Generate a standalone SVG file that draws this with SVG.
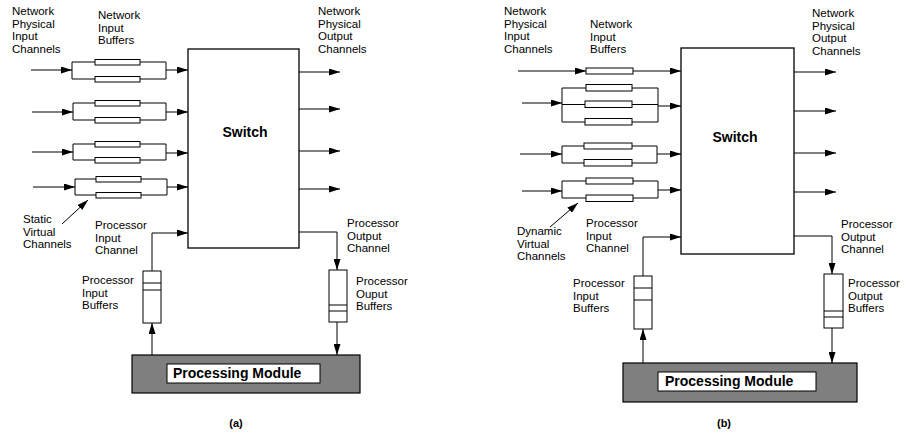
<svg xmlns="http://www.w3.org/2000/svg" width="906" height="437" viewBox="0 0 906 437">
  <style>
    text { font-family: "Liberation Sans", Arial, sans-serif; font-size: 11.5px; fill: #000; }
    .title { font-weight: bold; font-size: 14px; }
    .cap { font-weight: bold; font-size: 11px; }
    .ln { stroke: #000; stroke-width: 1; fill: none; }
    .buf { fill: #fff; stroke: #000; stroke-width: 1; }
    .sw { fill: #fff; stroke: #000; stroke-width: 1.3; }
    .pm { fill: #7f7f7f; stroke: #000; stroke-width: 1.2; }
    .pmlabel { fill: #fff; stroke: #000; stroke-width: 1; }
  </style>
  <defs>
    <marker id="arrow" viewBox="0 0 11 7" refX="11" refY="3.5" markerWidth="11" markerHeight="7" markerUnits="userSpaceOnUse" orient="auto">
      <path d="M0,0 L11,3.5 L0,7 z" fill="#000"/>
    </marker>
  </defs>
  <rect width="906" height="437" fill="#fff"/>

  <!-- ===================== (a) static virtual channels ===================== -->
  <g id="a-labels">
    <text x="12" y="15">Network<tspan x="12" dy="12.5">Physical</tspan><tspan x="12" dy="12.5">Input</tspan><tspan x="12" dy="12.5">Channels</tspan></text>
    <text x="98" y="19">Network<tspan x="98" dy="12.5">Input</tspan><tspan x="98" dy="12.5">Buffers</tspan></text>
    <text x="318" y="15">Network<tspan x="318" dy="12.5">Physical</tspan><tspan x="318" dy="12.5">Output</tspan><tspan x="318" dy="12.5">Channels</tspan></text>
    <text x="23" y="223">Static<tspan x="23" dy="12.5">Virtual</tspan><tspan x="23" dy="12.5">Channels</tspan></text>
    <text x="95" y="229">Processor<tspan x="95" dy="12.5">Input</tspan><tspan x="95" dy="12.5">Channel</tspan></text>
    <text x="82" y="284">Processor<tspan x="82" dy="12.5">Input</tspan><tspan x="82" dy="12.5">Buffers</tspan></text>
    <text x="347" y="227">Processor<tspan x="347" dy="12.5">Output</tspan><tspan x="347" dy="12.5">Channel</tspan></text>
    <text x="356" y="285">Processor<tspan x="356" dy="12.5">Ouput</tspan><tspan x="356" dy="12.5">Buffers</tspan></text>
    <text class="cap" x="236" y="427" text-anchor="middle">(a)</text>
  </g>

  <g id="a-switch">
    <rect class="sw" x="188" y="49" width="111" height="199"/>
    <text class="title" x="245" y="137" text-anchor="middle">Switch</text>
  </g>

  <g id="a-bank1">
    <path class="ln" d="M95,62 H72 V79 H95 M140,62 H166 V79 H140"/>
    <rect class="buf" x="95" y="59.5" width="45" height="5.5"/>
    <rect class="buf" x="95" y="76.5" width="45" height="5.5"/>
  </g>
  <g id="a-bank2">
    <path class="ln" d="M95,103 H73 V120 H95 M140,103 H166 V120 H140"/>
    <rect class="buf" x="95" y="100.5" width="45" height="5.5"/>
    <rect class="buf" x="95" y="117.5" width="45" height="5.5"/>
  </g>
  <g id="a-bank3">
    <path class="ln" d="M95,144 H73 V160 H95 M140,144 H166 V160 H140"/>
    <rect class="buf" x="95" y="141.5" width="45" height="5.5"/>
    <rect class="buf" x="95" y="157.5" width="45" height="5.5"/>
  </g>
  <g id="a-bank4">
    <path class="ln" d="M96,179 H75 V195 H96 M141,179 H167 V195 H141"/>
    <rect class="buf" x="96" y="176.5" width="45" height="5.5"/>
    <rect class="buf" x="96" y="192.5" width="45" height="5.5"/>
  </g>

  <g id="a-proc-in-buffer">
    <rect class="buf" x="143" y="271" width="18" height="52"/>
    <path class="ln" d="M143,283 H161 M143,290 H161"/>
  </g>
  <g id="a-proc-out-buffer">
    <rect class="buf" x="329" y="270" width="18" height="52"/>
    <path class="ln" d="M329,305 H347 M329,311 H347"/>
  </g>

  <g id="a-module">
    <rect class="pm" x="132" y="355" width="228" height="38"/>
    <rect class="pmlabel" x="167" y="364" width="153" height="19"/>
    <text class="title" x="173" y="378">Processing Module</text>
  </g>

  <g id="a-connectors">
    <!-- network input channels into buffer banks -->
    <line class="ln" x1="31" y1="70" x2="72" y2="70" marker-end="url(#arrow)"/>
    <line class="ln" x1="32" y1="112" x2="73" y2="112" marker-end="url(#arrow)"/>
    <line class="ln" x1="32" y1="152" x2="73" y2="152" marker-end="url(#arrow)"/>
    <line class="ln" x1="33" y1="187" x2="75" y2="187" marker-end="url(#arrow)"/>
    <!-- buffer banks into switch -->
    <line class="ln" x1="166" y1="70" x2="188" y2="70" marker-end="url(#arrow)"/>
    <line class="ln" x1="166" y1="112" x2="188" y2="112" marker-end="url(#arrow)"/>
    <line class="ln" x1="166" y1="153" x2="188" y2="153" marker-end="url(#arrow)"/>
    <line class="ln" x1="167" y1="187" x2="188" y2="187" marker-end="url(#arrow)"/>
    <!-- network output channels -->
    <line class="ln" x1="299" y1="72" x2="340" y2="72" marker-end="url(#arrow)"/>
    <line class="ln" x1="299" y1="109" x2="340" y2="109" marker-end="url(#arrow)"/>
    <line class="ln" x1="299" y1="151" x2="340" y2="151" marker-end="url(#arrow)"/>
    <line class="ln" x1="299" y1="189" x2="340" y2="189" marker-end="url(#arrow)"/>
    <!-- static virtual channel pointer -->
    <line class="ln" x1="62" y1="224" x2="88" y2="200" marker-end="url(#arrow)"/>
    <!-- processor input channel -->
    <line class="ln" x1="152" y1="355" x2="152" y2="323" marker-end="url(#arrow)"/>
    <path class="ln" d="M152,271 V233 H188" marker-end="url(#arrow)"/>
    <!-- processor output channel -->
    <path class="ln" d="M299,232 H337 V270" marker-end="url(#arrow)"/>
    <line class="ln" x1="337" y1="322" x2="337" y2="355" marker-end="url(#arrow)"/>
  </g>

  <!-- ===================== (b) dynamic virtual channels ===================== -->
  <g id="b-labels">
    <text x="504" y="15">Network<tspan x="504" dy="12.5">Physical</tspan><tspan x="504" dy="12.5">Input</tspan><tspan x="504" dy="12.5">Channels</tspan></text>
    <text x="590" y="28">Network<tspan x="590" dy="12.5">Input</tspan><tspan x="590" dy="12.5">Buffers</tspan></text>
    <text x="812" y="17">Network<tspan x="812" dy="12.5">Physical</tspan><tspan x="812" dy="12.5">Output</tspan><tspan x="812" dy="12.5">Channels</tspan></text>
    <text x="517" y="235">Dynamic<tspan x="517" dy="12.5">Virtual</tspan><tspan x="517" dy="12.5">Channels</tspan></text>
    <text x="586" y="227">Processor<tspan x="586" dy="12.5">Input</tspan><tspan x="586" dy="12.5">Channel</tspan></text>
    <text x="573" y="287">Processor<tspan x="573" dy="12.5">Input</tspan><tspan x="573" dy="12.5">Buffers</tspan></text>
    <text x="841" y="228">Processor<tspan x="841" dy="12.5">Output</tspan><tspan x="841" dy="12.5">Channel</tspan></text>
    <text x="848" y="287">Processor<tspan x="848" dy="12.5">Output</tspan><tspan x="848" dy="12.5">Buffers</tspan></text>
    <text class="cap" x="724" y="427" text-anchor="middle">(b)</text>
  </g>

  <g id="b-switch">
    <rect class="sw" x="681" y="48" width="113" height="206"/>
    <text class="title" x="735" y="142" text-anchor="middle">Switch</text>
  </g>

  <g id="b-bank1">
    <rect class="buf" x="586" y="68" width="47" height="6"/>
  </g>
  <g id="b-bank2">
    <path class="ln" d="M586,88 H562 V122 H586 M562,104.5 H586 M632,88 H658 V122 H632 M632,104.5 H658"/>
    <rect class="buf" x="586" y="84.5" width="46" height="6.5"/>
    <rect class="buf" x="585" y="101" width="47" height="6.5"/>
    <rect class="buf" x="585" y="118.5" width="47" height="6.5"/>
  </g>
  <g id="b-bank3">
    <path class="ln" d="M584,146 H562 V163 H584 M632,146 H657 V163 H632"/>
    <rect class="buf" x="584" y="143" width="48" height="6"/>
    <rect class="buf" x="584" y="159.5" width="48" height="6.5"/>
  </g>
  <g id="b-bank4">
    <path class="ln" d="M586,181 H562 V198 H586 M633,181 H658 V198 H633"/>
    <rect class="buf" x="586" y="178" width="47" height="6"/>
    <rect class="buf" x="586" y="195" width="47" height="6.5"/>
  </g>

  <g id="b-proc-in-buffer">
    <rect class="buf" x="634" y="276" width="18" height="53"/>
    <path class="ln" d="M634,288 H652 M634,300 H652"/>
  </g>
  <g id="b-proc-out-buffer">
    <rect class="buf" x="824" y="274" width="19" height="54"/>
    <path class="ln" d="M824,311 H843 M824,317 H843"/>
  </g>

  <g id="b-module">
    <rect class="pm" x="623" y="363" width="234" height="39"/>
    <rect class="pmlabel" x="658" y="372" width="158" height="19"/>
    <text class="title" x="665" y="386">Processing Module</text>
  </g>

  <g id="b-connectors">
    <!-- network input channels -->
    <line class="ln" x1="518" y1="71" x2="586" y2="71" marker-end="url(#arrow)"/>
    <line class="ln" x1="522" y1="103" x2="562" y2="103" marker-end="url(#arrow)"/>
    <line class="ln" x1="520" y1="154" x2="562" y2="154" marker-end="url(#arrow)"/>
    <line class="ln" x1="522" y1="191" x2="562" y2="191" marker-end="url(#arrow)"/>
    <!-- buffers into switch -->
    <line class="ln" x1="633" y1="71" x2="681" y2="71" marker-end="url(#arrow)"/>
    <line class="ln" x1="658" y1="106" x2="681" y2="106" marker-end="url(#arrow)"/>
    <line class="ln" x1="657" y1="154" x2="681" y2="154" marker-end="url(#arrow)"/>
    <line class="ln" x1="658" y1="190" x2="681" y2="190" marker-end="url(#arrow)"/>
    <!-- network output channels -->
    <line class="ln" x1="794" y1="72" x2="836" y2="72" marker-end="url(#arrow)"/>
    <line class="ln" x1="794" y1="111" x2="836" y2="111" marker-end="url(#arrow)"/>
    <line class="ln" x1="794" y1="153" x2="836" y2="153" marker-end="url(#arrow)"/>
    <line class="ln" x1="794" y1="192" x2="836" y2="192" marker-end="url(#arrow)"/>
    <!-- dynamic virtual channel pointer -->
    <line class="ln" x1="550" y1="227" x2="578" y2="203" marker-end="url(#arrow)"/>
    <!-- processor input channel -->
    <line class="ln" x1="643" y1="363" x2="643" y2="329" marker-end="url(#arrow)"/>
    <path class="ln" d="M643,276 V237 H681" marker-end="url(#arrow)"/>
    <!-- processor output channel -->
    <path class="ln" d="M794,236 H832 V274" marker-end="url(#arrow)"/>
    <line class="ln" x1="832" y1="328" x2="832" y2="363" marker-end="url(#arrow)"/>
  </g>
</svg>
